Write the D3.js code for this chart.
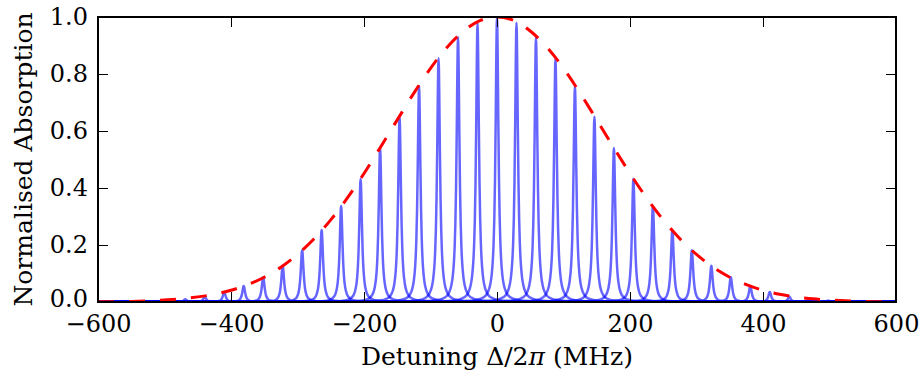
<!doctype html>
<html lang="en">
<head>
    <meta charset="utf-8">
    <title>Normalised Absorption</title>
    <script src="https://d3js.org/d3.v7.min.js"></script>
    <style>
        body { margin: 0; background: #fff; }
        text { font-family: "DejaVu Serif", "Liberation Serif", serif; fill: #000; }
    </style>
</head>
<body>
<script>
    // ---- Data ----
    // centres of the absorption peaks (MHz)
    const peakCenters = [
        -498.1, -468.8, -439.5, -410.2, -380.9, -351.6, -322.3, -293.0, -263.7,
        -234.4, -205.1, -175.8, -146.5, -117.2, -87.9, -58.6, -29.3, 0,
        29.3, 58.6, 87.9, 117.2, 146.5, 175.8, 205.1, 234.4, 263.7,
        293.0, 322.3, 351.6, 380.9, 410.2, 439.5, 468.8, 498.1
    ];
    // peak heights (normalised)
    const peakHeights = [
        0.005, 0.010, 0.019, 0.035, 0.056, 0.087, 0.127, 0.182, 0.253,
        0.337, 0.432, 0.540, 0.650, 0.758, 0.855, 0.930, 0.980, 1.000,
        0.980, 0.930, 0.855, 0.758, 0.650, 0.540, 0.432, 0.337, 0.253,
        0.182, 0.127, 0.087, 0.056, 0.035, 0.019, 0.010, 0.005
    ];
    // line shape of a single peak: offset from centre (MHz) and relative height
    const profileOffsets = [-1200, -200, -100, -50, -30, -20, -14, -10, -8, -6, -5, -4, -3, -2, -1.5, -1, -0.5,
                            0, 0.5, 1, 1.5, 2, 3, 4, 5, 6, 8, 10, 14, 20, 30, 50, 100, 200, 1200];
    const profileValues  = [0, 0.0002, 0.0007, 0.0027, 0.0075, 0.0166, 0.0333, 0.0633, 0.0955, 0.158, 0.213, 0.297, 0.429, 0.628, 0.750, 0.871, 0.964,
                            1, 0.964, 0.871, 0.750, 0.628, 0.429, 0.297, 0.213, 0.158, 0.0955, 0.0633, 0.0333, 0.0166, 0.0075, 0.0027, 0.0007, 0.0002, 0];
    // Doppler envelope (red dashed)
    const envX = [-600, -575, -550, -525, -500, -475, -450, -425, -400, -375, -350, -325, -300, -275, -250, -225, -200, -175, -150, -125, -100, -75, -50, -25,
                  0, 25, 50, 75, 100, 125, 150, 175, 200, 225, 250, 275, 300, 325, 350, 375, 400, 425, 450, 475, 500, 525, 550, 575, 600];
    const envY = [0.001, 0.001, 0.002, 0.004, 0.007, 0.011, 0.018, 0.027, 0.041, 0.061, 0.087, 0.122, 0.167, 0.222, 0.288, 0.365, 0.451, 0.544, 0.639, 0.733, 0.820, 0.894, 0.951, 0.988,
                  1.000, 0.988, 0.951, 0.894, 0.820, 0.733, 0.639, 0.544, 0.451, 0.365, 0.288, 0.222, 0.167, 0.122, 0.087, 0.061, 0.041, 0.027, 0.018, 0.011, 0.007, 0.004, 0.002, 0.001, 0.001];
    const xTicks = [-600, -400, -200, 0, 200, 400, 600];
    const yTicks = [0.0, 0.2, 0.4, 0.6, 0.8, 1.0];

    // ---- Dimensions ----
    const W = 920, H = 376;
    const margin = { top: 17, right: 24, bottom: 74, left: 98 };
    const w = W - margin.left - margin.right;
    const h = H - margin.top - margin.bottom;

    const svg = d3.select("body").append("svg")
        .attr("width", W).attr("height", H);
    const g = svg.append("g")
        .attr("transform", `translate(${margin.left},${margin.top})`);

    const x = d3.scaleLinear().domain([-600, 600]).range([0, w]);
    const y = d3.scaleLinear().domain([0, 1]).range([h, 0]);

    g.append("clipPath").attr("id", "clip")
        .append("rect").attr("width", w).attr("height", h);

    const plot = g.append("g").attr("clip-path", "url(#clip)");

    // Lorentzian peaks, one line each
    const line = d3.line()
        .x(d => x(d[0]))
        .y(d => y(d[1]))
        .curve(d3.curveMonotoneX);

    peakCenters.forEach((c, i) => {
        const pts = profileOffsets.map((o, j) => [c + o, peakHeights[i] * profileValues[j]]);
        plot.append("path")
            .datum(pts)
            .attr("fill", "none")
            .attr("stroke", "blue")
            .attr("stroke-opacity", 0.6)
            .attr("stroke-width", 2.5)
            .attr("d", line);
    });

    // envelope
    plot.append("path")
        .datum(envX.map((v, i) => [v, envY[i]]))
        .attr("fill", "none")
        .attr("stroke", "red")
        .attr("stroke-width", 3)
        .attr("stroke-dasharray", "16,15")
        .attr("d", line);

    // ---- Axes (ticks pointing inwards, on all four sides) ----
    const fmtX = d3.format("d");
    const fmtY = d3.format(".1f");

    function styleAxis(sel) {
        sel.select(".domain").remove();
        sel.selectAll(".tick line").attr("stroke", "#000").attr("stroke-width", 1);
        sel.selectAll(".tick text").style("font-size", "24px");
    }

    g.append("g").attr("transform", `translate(0,${h})`)
        .call(d3.axisBottom(x).tickValues(xTicks).tickFormat(fmtX).tickSizeInner(-10).tickSizeOuter(0).tickPadding(13))
        .call(styleAxis);
    g.append("g")
        .call(d3.axisTop(x).tickValues(xTicks).tickSizeInner(-10).tickSizeOuter(0).tickFormat(""))
        .call(styleAxis);
    g.append("g")
        .call(d3.axisLeft(y).tickValues(yTicks).tickFormat(fmtY).tickSizeInner(-10).tickSizeOuter(0).tickPadding(10))
        .call(styleAxis);
    g.append("g").attr("transform", `translate(${w},0)`)
        .call(d3.axisRight(y).tickValues(yTicks).tickSizeInner(-10).tickSizeOuter(0).tickFormat(""))
        .call(styleAxis);

    // lift the lowest y label a little so it clears the x labels
    g.selectAll(".tick text").filter(d => d === 0 && typeof d === "number")
        .filter(function() { return this.getAttribute("x") !== null && +this.getAttribute("x") < 0; })
        .attr("dy", "0.2em");

    // frame
    g.append("rect")
        .attr("width", w).attr("height", h)
        .attr("fill", "none").attr("stroke", "#000").attr("stroke-width", 2);

    // axis labels
    const xl = svg.append("text")
        .attr("x", margin.left + w / 2).attr("y", 365)
        .attr("text-anchor", "middle")
        .style("font-size", "25px");
    xl.append("tspan").text("Detuning \u0394/2");
    xl.append("tspan").style("font-style", "italic").text("\u03c0");
    xl.append("tspan").text(" (MHz)");

    svg.append("text")
        .attr("transform", `translate(32,${margin.top + h / 2}) rotate(-90)`)
        .attr("text-anchor", "middle")
        .style("font-size", "25px")
        .text("Normalised Absorption");
</script>
</body>
</html>
